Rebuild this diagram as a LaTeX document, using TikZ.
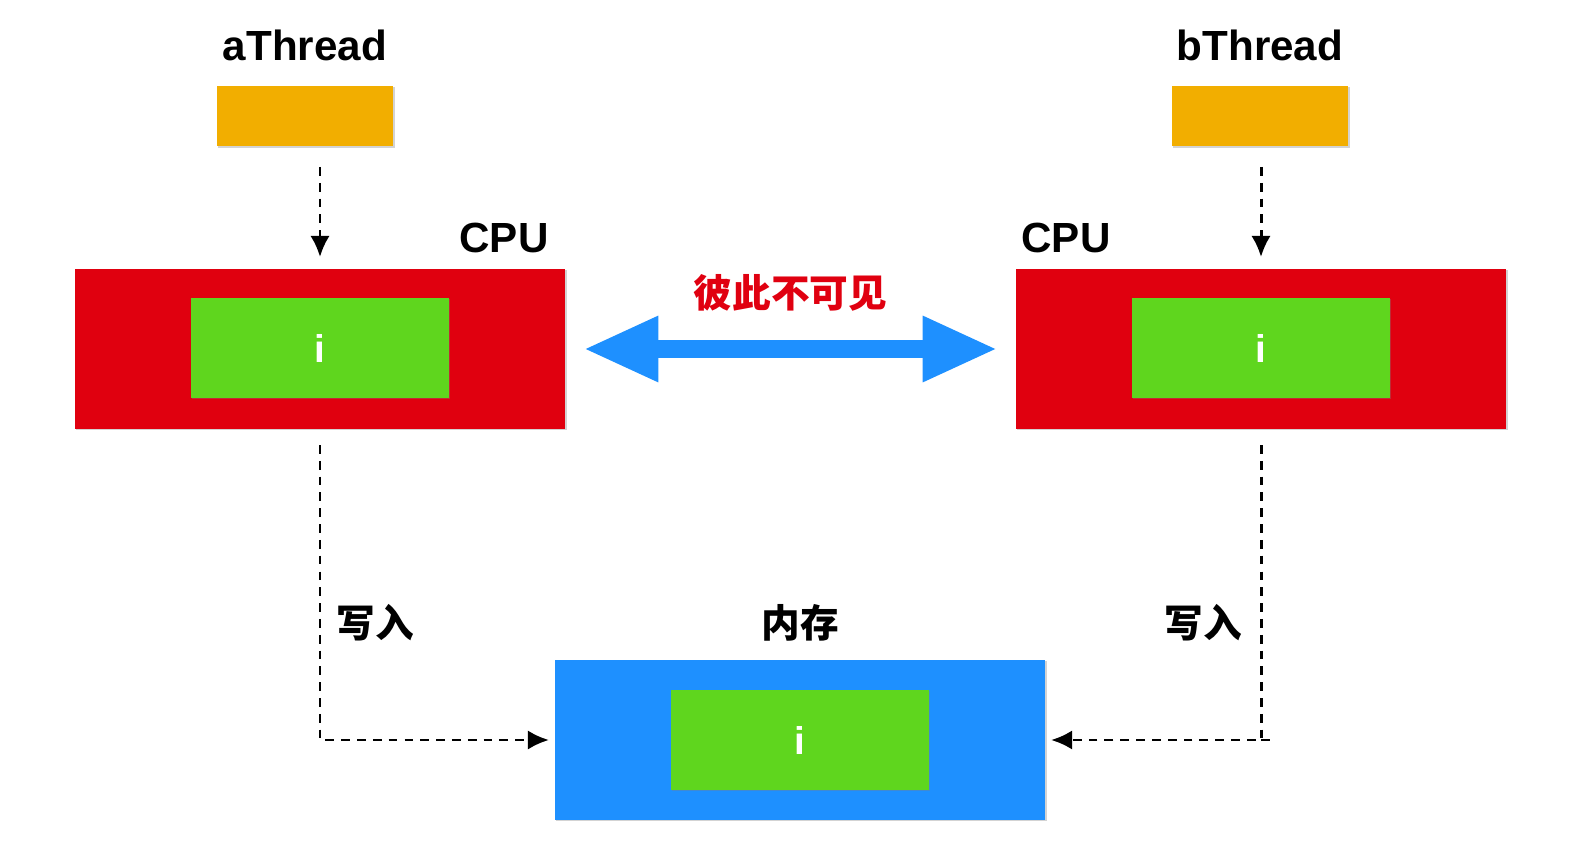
\documentclass[tikz,border=0pt]{standalone}
\usepackage{fontspec}
\setmainfont{Liberation Sans}
\newfontfamily\cjk{Noto Sans CJK SC}
\usetikzlibrary{
	positioning
	, arrows.meta
	, shadows
}

\begin{document}
\begin{tikzpicture}[
			x=0.02cm, y=-0.02cm,
			box/.style={
				rectangle,
				inner sep=0,
				drop shadow={shadow xshift=0.6pt, shadow yshift=-0.6pt, opacity=0.35}
			},
			thread/.style={
				box,
				fill=threadOrange,
				minimum width=3.54cm,
				minimum height=1.22cm
			},
			cpu/.style={
				box,
				fill=cpuRed,
				minimum width=9.82cm,
				minimum height=3.2cm
			},
			cache/.style={
				box,
				fill=cacheGreen,
				minimum width=5.16cm,
				minimum height=2cm,
				text=white,
				font=\bfseries\fontsize{22}{22}\selectfont
			},
			label/.style={
				font=\bfseries\fontsize{24}{24}\selectfont
			},
			cjklabel/.style={
				font=\cjk\bfseries\fontsize{22}{22}\selectfont
			},
			arrow/.style={
				->,
				line width=1.7pt,
				dash pattern=on 5pt off 4pt
			},
			>={Latex[length=12pt,width=11pt]}]

			\definecolor{threadOrange}{HTML}{F2AE00}
			\definecolor{cpuRed}{HTML}{E0000F}
			\definecolor{cacheGreen}{HTML}{5FD61E}
			\definecolor{memBlue}{HTML}{1E90FF}
			\definecolor{seeRed}{HTML}{E00010}

			%%% threads
			\node [thread] (threadA) at (305,116) {};
			\node [thread] (threadB) at (1260,116) {};
			\node [label] at (305,45) {aThread};
			\node [label] at (1260,45) {bThread};

			%%% cpus with their caches
			\node [cpu] (cpuA) at (320,349) {};
			\node [cpu] (cpuB) at (1261,349) {};
			\node [cache] (cacheA) at (320,348) {i};
			\node [cache] (cacheB) at (1261,348) {i};
			\node [label] at (504,238) {CPU};
			\node [label] at (1066,238) {CPU};

			%%% main memory
			\node [cpu, fill=memBlue] (memory) at (800,740) {};
			\node [cache] (cacheM) at (800,740) {i};
			\node [cjklabel] at (800,623) {内存};

			% threads run on cpus
			\coordinate (aTop) at (320,167);
			\coordinate (bTop) at (1261,167);
			\draw [arrow] (aTop) -- (320,257);
			\draw [arrow] (bTop) -- (1261,257);

			% caches cannot see each other
			\draw [memBlue, line width=0.36cm,
				{Triangle[length=1.5cm 0,width=1.22cm 0]}-{Triangle[length=1.5cm 0,width=1.22cm 0]}]
				([xshift=10]cpuA.east) -- ([xshift=-10]cpuB.west)
				node [midway, above=0.45cm, cjklabel, text=seeRed] {彼此不可见};

			% write back to memory
			\coordinate (aDown) at (320,445);
			\coordinate (bDown) at (1261,445);
			\coordinate (bEnd) at (1275,740);
			\draw [arrow] (aDown) |- ([xshift=-3]memory.west);
			\draw [arrow] (bDown) |- ([xshift=3]memory.east);
			\draw [line width=1.7pt, dash pattern=on 5pt off 4pt] (1261,740) -- (bEnd);
			\node [cjklabel] at (375,623) {写入};
			\node [cjklabel] at (1203,623) {写入};

			\pgfresetboundingbox
			\useasboundingbox (0,0) rectangle (1586,868);
		\end{tikzpicture}
\end{document}
